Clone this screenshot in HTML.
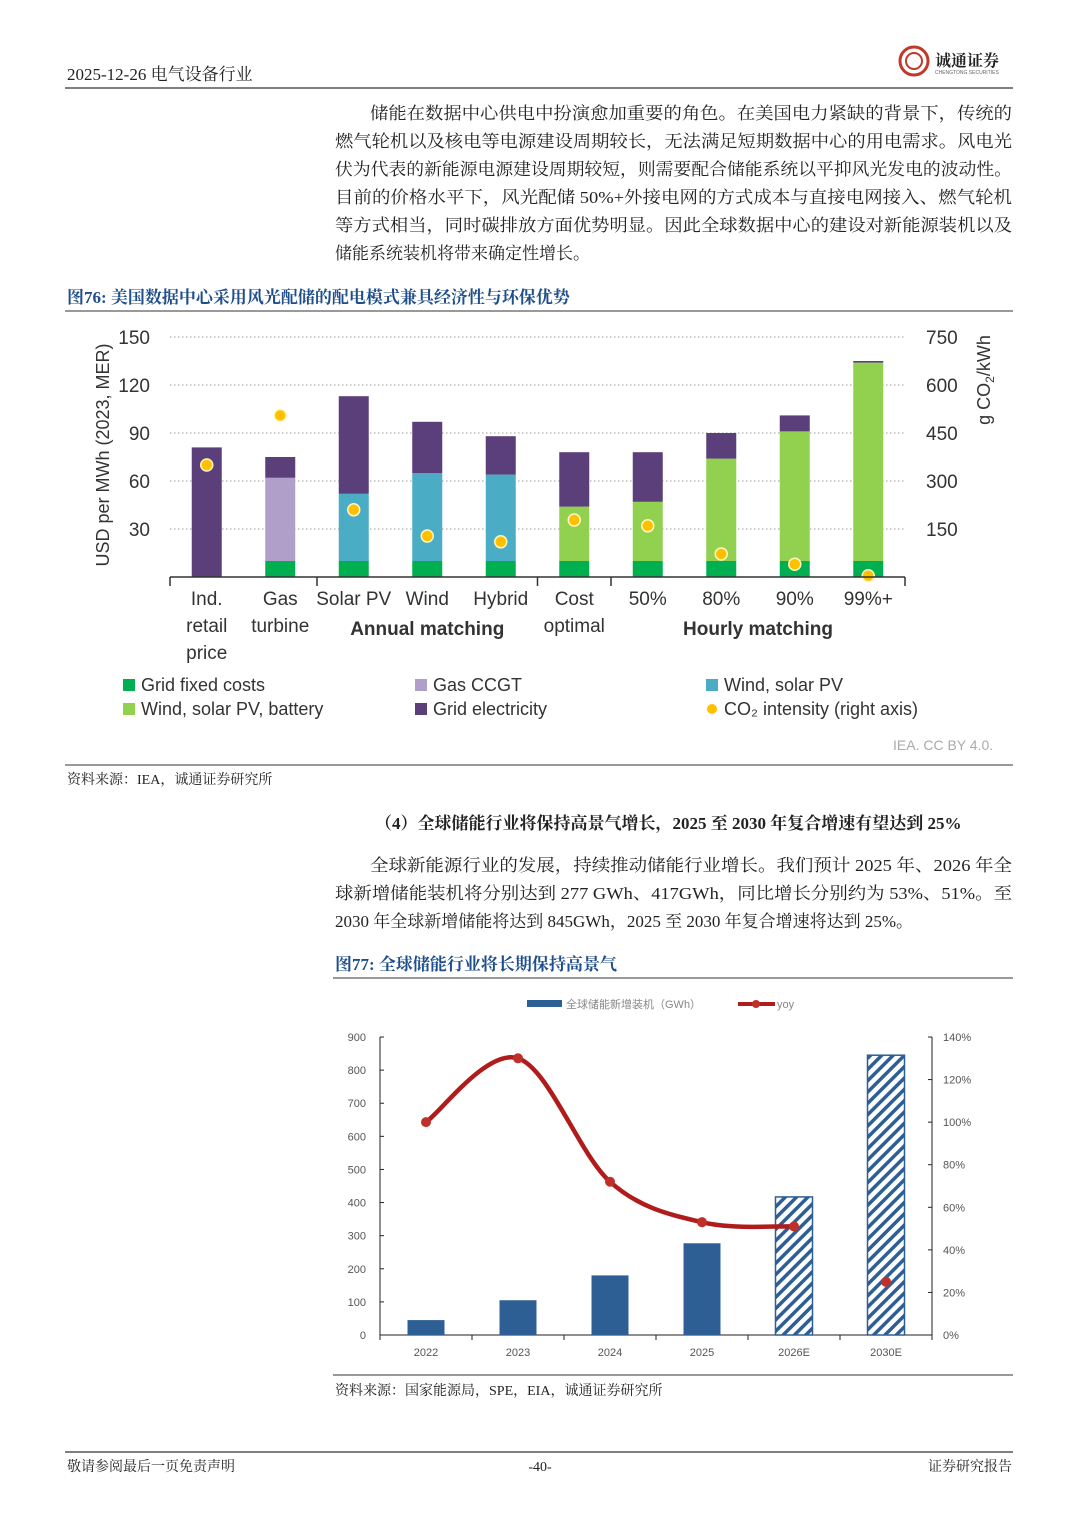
<!DOCTYPE html>
<html><head><meta charset="utf-8">
<style>
html,body{margin:0;padding:0;background:#fff;}
svg{display:block;}
.cn{font-family:"Liberation Serif","Noto Serif CJK SC",serif;fill:#222;}
.sans{font-family:"Liberation Sans","Noto Sans CJK SC",sans-serif;}
</style></head>
<body>
<svg id="page" width="1080" height="1527" viewBox="0 0 1080 1527" xmlns="http://www.w3.org/2000/svg">
<defs>
<pattern id="hatch" width="8" height="8" patternUnits="userSpaceOnUse" patternTransform="rotate(45)">
<rect width="8" height="8" fill="#fff"/><rect width="3.5" height="8" fill="#2e5f94"/>
</pattern>
</defs>
<text class="cn" x="67" y="80" font-size="17">2025-12-26 电气设备行业</text>
<g>
<circle cx="914" cy="61" r="14" fill="none" stroke="#c0392b" stroke-width="3"/>
<circle cx="914" cy="61" r="8" fill="none" stroke="#c0392b" stroke-width="2"/>
<text class="cn" x="935" y="66" font-size="16" font-weight="bold" fill="#333">诚通证券</text>
<text x="935" y="74" font-size="5" fill="#666" class="sans">CHENGTONG SECURITIES</text>
</g>
<line x1="65" y1="88" x2="1013" y2="88" stroke="#333" stroke-width="1.2"/>
<g class="cn" font-size="17">
<text x="370" y="119" textLength="642" lengthAdjust="spacingAndGlyphs">储能在数据中心供电中扮演愈加重要的角色。在美国电力紧缺的背景下，传统的</text>
<text x="335" y="147" textLength="677" lengthAdjust="spacingAndGlyphs">燃气轮机以及核电等电源建设周期较长，无法满足短期数据中心的用电需求。风电光</text>
<text x="335" y="175" textLength="677" lengthAdjust="spacingAndGlyphs">伏为代表的新能源电源建设周期较短，则需要配合储能系统以平抑风光发电的波动性。</text>
<text x="335" y="203" textLength="677" lengthAdjust="spacingAndGlyphs">目前的价格水平下，风光配储 50%+外接电网的方式成本与直接电网接入、燃气轮机</text>
<text x="335" y="231" textLength="677" lengthAdjust="spacingAndGlyphs">等方式相当，同时碳排放方面优势明显。因此全球数据中心的建设对新能源装机以及</text>
<text x="335" y="259">储能系统装机将带来确定性增长。</text>
</g>
<text class="cn" x="67" y="303" font-size="17" font-weight="bold" style="fill:#1f4e8c">图76:   美国数据中心采用风光配储的配电模式兼具经济性与环保优势</text>
<line x1="65" y1="311" x2="1013" y2="311" stroke="#333" stroke-width="1"/>
<g id="chart1"></g>
<text class="sans" x="893" y="750" font-size="14" fill="#aaa">IEA. CC BY 4.0.</text>
<line x1="65" y1="765" x2="1013" y2="765" stroke="#333" stroke-width="1"/>
<text class="cn" x="67" y="784" font-size="14">资料来源：IEA，诚通证券研究所</text>
<text class="cn" x="375" y="829" font-size="17" font-weight="bold">（4）全球储能行业将保持高景气增长，2025 至 2030 年复合增速有望达到 25%</text>
<g class="cn" font-size="17">
<text x="370" y="871" textLength="642" lengthAdjust="spacingAndGlyphs">全球新能源行业的发展，持续推动储能行业增长。我们预计 2025 年、2026 年全</text>
<text x="335" y="899" textLength="677" lengthAdjust="spacingAndGlyphs">球新增储能装机将分别达到 277 GWh、417GWh，同比增长分别约为 53%、51%。至</text>
<text x="335" y="927">2030 年全球新增储能将达到 845GWh，2025 至 2030 年复合增速将达到 25%。</text>
</g>
<text class="cn" x="335" y="970" font-size="17" font-weight="bold" style="fill:#1f4e8c">图77:   全球储能行业将长期保持高景气</text>
<line x1="333" y1="978" x2="1013" y2="978" stroke="#333" stroke-width="1"/>
<g id="chart2"></g>
<line x1="333" y1="1375" x2="1013" y2="1375" stroke="#333" stroke-width="1"/>
<text class="cn" x="335" y="1395" font-size="14">资料来源：国家能源局，SPE，EIA，诚通证券研究所</text>
<line x1="65" y1="1452" x2="1013" y2="1452" stroke="#333" stroke-width="1.2"/>
<text class="cn" x="67" y="1471" font-size="14">敬请参阅最后一页免责声明</text>
<text class="cn" x="540" y="1471" font-size="14" text-anchor="middle">-40-</text>
<text class="cn" x="1012" y="1471" font-size="14" text-anchor="end">证券研究报告</text>
</svg>
<script>
const c1Categories = ["Ind.|retail|price","Gas|turbine","Solar PV","Wind","Hybrid","Cost|optimal","50%","80%","90%","99%+"];
const c1GridFixed = [0,10,10,10,10,10,10,10,10,10];
const c1GasCCGT = [0,52,0,0,0,0,0,0,0,0];
const c1WindSolar = [0,0,42,55,54,0,0,0,0,0];
const c1WindSolarBattery = [0,0,0,0,0,34,37,64,81,124];
const c1GridElectricity = [81,13,61,32,24,34,31,16,10,1];
const c1CO2 = [350,505,210,128,110,178,160,72,40,4];
const c1LeftTicks = [30,60,90,120,150];
const c1RightTicks = [150,300,450,600,750];

const c2Years = ["2022","2023","2024","2025","2026E","2030E"];
const c2Install = [45,105,180,277,417,845];
const c2Yoy = [100,130,72,53,51,25];
const c2Estimate = [false,false,false,false,true,true];
const c2LeftTicks = [0,100,200,300,400,500,600,700,800,900];
const c2RightTicks = [0,20,40,60,80,100,120,140];

const NS="http://www.w3.org/2000/svg";
function mk(tag,attrs,parent){const e=document.createElementNS(NS,tag);for(const k in attrs)e.setAttribute(k,attrs[k]);parent.appendChild(e);return e;}

(function(){
const g=document.getElementById('chart1');
const x0=170,x1=905,yB=577,pxU=1.6;
const yL=v=>yB-v*pxU, yR=v=>yB-(v/5)*pxU;
const step=(x1-x0)/c1Categories.length;
const xc=i=>x0+step*(i+0.5);
const bw=30;
c1LeftTicks.forEach((t,i)=>{
 const l=mk('line',{x1:x0,x2:x1,y1:yL(t),y2:yL(t),stroke:'#999','stroke-dasharray':'1.5 2.5','stroke-width':1},g);
 
 
 const tx=mk('text',{x:150,y:yL(t)+7,'font-size':19,'text-anchor':'end',fill:'#333',class:'sans'},g);tx.textContent=t;
 
 
});
c1RightTicks.forEach(t=>{
 const tx=mk('text',{x:926,y:yR(t)+7,'font-size':19,fill:'#333',class:'sans'},g);tx.textContent=t;
 
 
});
const yt=mk('text',{transform:'translate(109,455) rotate(-90)','font-size':18,'text-anchor':'middle',fill:'#333',class:'sans'},g);yt.textContent='USD per MWh (2023, MER)';


const yt2=mk('text',{transform:'translate(990,380) rotate(-90)','font-size':18,'text-anchor':'middle',fill:'#333',class:'sans'},g);yt2.innerHTML='g CO<tspan font-size="12" dy="4">2</tspan><tspan dy="-4">/kWh</tspan>';


const series=[[c1GridFixed,'#00b050','grid-fixed'],[c1GasCCGT,'#b09fc8','gas-ccgt'],[c1WindSolar,'#4bacc6','wind-solar'],[c1WindSolarBattery,'#92d050','wind-solar-battery'],[c1GridElectricity,'#5b3f7a','grid-electricity']];
c1Categories.forEach((c,i)=>{
 let acc=0;
 series.forEach(([arr,col,nm])=>{
  const v=arr[i]; if(!v)return;
  const r=mk('rect',{x:xc(i)-bw/2,y:yL(acc+v),width:bw,height:v*pxU,fill:col},g);
  
  
  acc+=v;
 });
 const d=mk('circle',{cx:xc(i),cy:yR(c1CO2[i]),r:6,fill:'#ffc000',stroke:'#fff5c0','stroke-width':1.5},g);
 
 
 c.split('|').forEach((ln,k)=>{
  const t=mk('text',{x:xc(i),y:605+k*27,'font-size':19,'text-anchor':'middle',fill:'#333',class:'sans'},g);t.textContent=ln;
  
  
 });
});
const ax=mk('line',{x1:x0,x2:x1,y1:yB,y2:yB,stroke:'#333','stroke-width':1.5},g);


[0,2,5,6,10].forEach(k=>{const tk=mk('line',{x1:x0+step*k,x2:x0+step*k,y1:yB,y2:yB+9,stroke:'#333','stroke-width':1.5},g);
 
 });
[['Annual matching',(xc(2)+xc(4))/2],['Hourly matching',(xc(6)+xc(9))/2]].forEach(([s,x])=>{
 const t=mk('text',{x:x,y:635,'font-size':19,'font-weight':'bold','text-anchor':'middle',fill:'#333',class:'sans'},g);t.textContent=s;
 
 
});
const leg=[['Grid fixed costs','#00b050',123,691,'rect'],['Wind, solar PV, battery','#92d050',123,715,'rect'],['Gas CCGT','#b09fc8',415,691,'rect'],['Grid electricity','#5b3f7a',415,715,'rect'],['Wind, solar PV','#4bacc6',706,691,'rect'],['CO₂ intensity (right axis)','#ffc000',706,715,'dot']];
leg.forEach(([s,col,x,y,sh])=>{
 if(sh==='rect')mk('rect',{x:x,y:y-12,width:12,height:12,fill:col},g);else mk('circle',{cx:x+6,cy:y-6,r:5,fill:col},g);
 const t=mk('text',{x:x+18,y:y,'font-size':18,fill:'#333',class:'sans'},g);t.textContent=s;
 
 
});
})();

(function(){
const g=document.getElementById('chart2');
const x0=380,x1=932,yB=1335,yT=1037;
const yL=v=>yB-v/900*(yB-yT), yR=v=>yB-v/140*(yB-yT);
const step=(x1-x0)/c2Years.length, xc=i=>x0+step*(i+0.5), bw=37;
mk('line',{x1:x0,x2:x0,y1:yT,y2:yB,stroke:'#222'},g);
mk('line',{x1:x1,x2:x1,y1:yT,y2:yB,stroke:'#222'},g);
mk('line',{x1:x0,x2:x1,y1:yB,y2:yB,stroke:'#222'},g);
c2LeftTicks.forEach(t=>{mk('line',{x1:x0,x2:x0+4,y1:yL(t),y2:yL(t),stroke:'#222'},g);
 const tx=mk('text',{x:x0-14,y:yL(t)+4,'font-size':11,'text-anchor':'end',fill:'#555',class:'sans'},g);tx.textContent=t;
 
 });
c2RightTicks.forEach(t=>{mk('line',{x1:x1,x2:x1-4,y1:yR(t),y2:yR(t),stroke:'#222'},g);
 const tx=mk('text',{x:x1+11,y:yR(t)+4,'font-size':11,fill:'#555',class:'sans'},g);tx.textContent=t+'%';
 
 });
for(let k=0;k<=c2Years.length;k++)mk('line',{x1:x0+step*k,x2:x0+step*k,y1:yB,y2:yB+5,stroke:'#222'},g);
c2Years.forEach((y,i)=>{
 const r=mk('rect',{x:xc(i)-bw/2,y:yL(c2Install[i]),width:bw,height:yB-yL(c2Install[i]),fill:c2Estimate[i]?'url(#hatch)':'#2e5f94',stroke:'#2e5f94','stroke-width':c2Estimate[i]?1.5:0},g);
 
 
 const t=mk('text',{x:xc(i),y:yB+21,'font-size':11,'text-anchor':'middle',fill:'#555',class:'sans'},g);t.textContent=y;
 
 
});
const pts=[0,1,2,3,4].map(i=>[xc(i),yR(c2Yoy[i])]);
let d='M'+pts[0][0]+','+pts[0][1];
for(let i=0;i<pts.length-1;i++){const p0=pts[i-1]||pts[i],p1=pts[i],p2=pts[i+1],p3=pts[i+2]||p2;
 d+=' C'+(p1[0]+(p2[0]-p0[0])/6)+','+(p1[1]+(p2[1]-p0[1])/6)+' '+(p2[0]-(p3[0]-p1[0])/6)+','+(p2[1]-(p3[1]-p1[1])/6)+' '+p2[0]+','+p2[1];}
const ln=mk('path',{d:d,fill:'none',stroke:'#b01c1c','stroke-width':4.5},g);


c2Yoy.forEach((v,i)=>{const c=mk('circle',{cx:xc(i),cy:yR(v),r:5,fill:'#c0302b'},g);
 
 });
mk('rect',{x:527,y:1000,width:35,height:7,fill:'#2e5f94'},g);
const l1=mk('text',{x:566,y:1008,'font-size':11,fill:'#888',class:'sans'},g);l1.textContent='全球储能新增装机（GWh）';


mk('line',{x1:738,x2:775,y1:1004,y2:1004,stroke:'#b01c1c','stroke-width':4},g);
mk('circle',{cx:756,cy:1004,r:4,fill:'#c0302b'},g);
const l2=mk('text',{x:777,y:1008,'font-size':11,fill:'#888',class:'sans'},g);l2.textContent='yoy';


})();
</script>
</body></html>
